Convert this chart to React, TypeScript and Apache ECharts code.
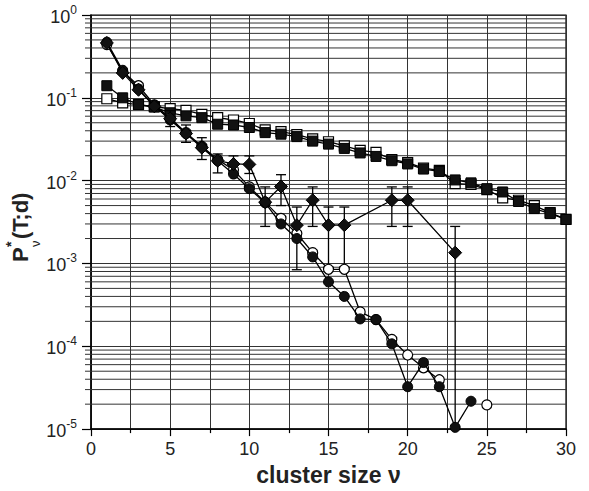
import React, { useEffect, useRef } from 'react';
import * as echarts from 'echarts';

// cluster sizes (x)
const squareSizes = [1, 2, 3, 4, 5, 6, 7, 8, 9, 10, 11, 12, 13, 14, 15, 16, 17, 18, 19, 20, 21, 22, 23, 24, 25, 26, 27, 28, 29, 30];
const filledSquares = [0.14, 0.1, 0.083, 0.0774, 0.066, 0.0606, 0.0576, 0.048, 0.047, 0.0438, 0.038, 0.0364, 0.034, 0.03, 0.0276, 0.0245, 0.0216, 0.0196, 0.0174, 0.0159, 0.0138, 0.0129, 0.0102, 0.0094, 0.008, 0.0073, 0.0056, 0.0046, 0.004, 0.0034];
const openSquares = [0.0975, 0.087, 0.083, 0.078, 0.074, 0.0706, 0.063, 0.0576, 0.054, 0.049, 0.041, 0.039, 0.036, 0.032, 0.0295, 0.0263, 0.0232, 0.0219, 0.018, 0.0165, 0.0142, 0.0133, 0.0092, 0.009, 0.0078, 0.0062, 0.0058, 0.005, 0.0041, 0.0034];

const openCircleSizes = [1, 2, 3, 4, 5, 6, 7, 8, 9, 10, 11, 12, 13, 14, 15, 16, 17, 18, 19, 20, 21, 22, 23, 24, 25];
const openCircles: (number | null)[] = [0.44, 0.21, 0.14, 0.082, 0.057, 0.038, 0.026, 0.018, 0.0135, 0.0084, 0.0055, 0.0035, 0.0023, 0.00135, 0.00085, 0.00085, 0.00026, 0.00021, 0.000121, 0.0000785, 0.000055, 0.0000394, null, null, 0.0000196];

const filledCircleSizes = [1, 2, 3, 4, 5, 6, 7, 8, 9, 10, 11, 12, 13, 14, 15, 16, 17, 18, 19, 20, 21, 22, 23, 24];
const filledCircles = [0.47, 0.215, 0.128, 0.08, 0.054, 0.037, 0.0255, 0.0174, 0.012, 0.008, 0.0054, 0.003, 0.002, 0.0012, 0.0006, 0.0004, 0.000214, 0.00021, 0.000107, 0.0000325, 0.0000636, 0.0000325, 0.0000105, 0.0000217];

const diamondSizes = [1, 2, 3, 4, 5, 6, 7, 8, 9, 10, 11, 12, 13, 14, 15, 16, 19, 20, 23];
const diamonds = [0.46, 0.2, 0.125, 0.079, 0.056, 0.037, 0.025, 0.0174, 0.0159, 0.0157, 0.0055, 0.0085, 0.0029, 0.0058, 0.0029, 0.0029, 0.0058, 0.0058, 0.00135];

const errSizes = [5, 6, 7, 8, 9, 10, 11, 12, 13, 14, 15, 16, 19, 20, 23];
const errLow = [0.045, 0.029, 0.018, 0.0124, 0.0122, 0.0122, 0.0028, 0.005, 0.00084, 0.0028, 0.0009, 0.0009, 0.0028, 0.0028, 0.00001];
const errHigh = [0.07, 0.047, 0.033, 0.021, 0.0199, 0.0199, 0.0084, 0.0118, 0.0048, 0.0084, 0.0048, 0.0048, 0.0084, 0.0084, 0.0028];

// log-axis minor grid positions
const decades = [1e-5, 1e-4, 1e-3, 1e-2, 1e-1];
const minorMultipliers = [2, 3, 4, 5, 6, 7, 8, 9];
const minorTickValues: number[] = [];
decades.forEach((d) => minorMultipliers.forEach((m) => minorTickValues.push(d * m)));

const FONT = 'Arial, "Liberation Sans", Helvetica, sans-serif';
const GRID_COLOR = '#333';
const TEXT_COLOR = '#222';

function pairs(xs: number[], ys: (number | null)[]) {
  return xs.map((x, i) => (ys[i] == null ? [x, '-'] : [x, ys[i]]));
}

export default function App() {
  const ref = useRef<HTMLDivElement>(null);
  useEffect(() => {
    const chart = echarts.init(ref.current!, null, { renderer: 'svg' });
    const lineStyle = { color: '#000', width: 1.3 };
    const option: any = {
      animation: false,
      backgroundColor: '#fff',
      grid: { left: 91, right: 23, top: 15, bottom: 59, show: true, borderColor: '#000', borderWidth: 1.2, backgroundColor: 'transparent' },
      xAxis: {
        type: 'value',
        min: 0,
        max: 30,
        interval: 5,
        axisLine: { show: true, lineStyle: { color: '#000', width: 1.5 } },
        axisTick: { show: true, length: 7, lineStyle: { color: '#000', width: 1.2 } },
        minorTick: { show: true, splitNumber: 2, length: 4, lineStyle: { color: '#000', width: 1.2 } },
        splitLine: { show: true, lineStyle: { color: GRID_COLOR, width: 1 } },
        minorSplitLine: { show: true, lineStyle: { color: GRID_COLOR, width: 1 } },
        axisLabel: { fontSize: 18, color: TEXT_COLOR, fontFamily: FONT, margin: 11 },
        name: 'cluster size ν',
        nameLocation: 'middle',
        nameGap: 29,
        nameTextStyle: { fontSize: 23, fontWeight: 'bold', color: TEXT_COLOR, fontFamily: FONT },
      },
      yAxis: {
        type: 'log',
        logBase: 10,
        min: 1e-5,
        max: 1,
        axisLine: { show: true, lineStyle: { color: '#000', width: 1.5 } },
        axisTick: { show: true, length: 9, lineStyle: { color: '#000', width: 1.2 } },
        splitLine: { show: true, lineStyle: { color: GRID_COLOR, width: 1 } },
        axisLabel: {
          margin: 14,
          formatter: (v: number) => `{b|10}{s|${Math.round(Math.log10(v))}}`,
          rich: {
            b: { fontSize: 18, color: TEXT_COLOR, fontFamily: FONT, lineHeight: 22, verticalAlign: 'bottom' },
            s: { fontSize: 12, color: TEXT_COLOR, fontFamily: FONT, lineHeight: 12, verticalAlign: 'top' },
          },
        },
      },
      graphic: [
        {
          type: 'group',
          x: 20,
          y: 262,
          rotation: Math.PI / 2,
          children: [
            { type: 'text', x: 0, y: 0, style: { text: 'P', fontSize: 22, fontWeight: 'bold', fontFamily: FONT, fill: TEXT_COLOR, align: 'left', verticalAlign: 'middle', textAlign: 'left', textVerticalAlign: 'middle' } },
            { type: 'text', x: 15, y: -9, style: { text: '*', fontSize: 14, fontWeight: 'bold', fontFamily: FONT, fill: TEXT_COLOR, align: 'left', verticalAlign: 'middle', textAlign: 'left', textVerticalAlign: 'middle' } },
            { type: 'text', x: 15, y: 15, style: { text: 'ν', fontSize: 13, fontFamily: FONT, fill: TEXT_COLOR, align: 'left', verticalAlign: 'middle', textAlign: 'left', textVerticalAlign: 'middle' } },
            { type: 'text', x: 23, y: 0, style: { text: '(T;d)', fontSize: 22, fontWeight: 'bold', fontFamily: FONT, fill: TEXT_COLOR, align: 'left', verticalAlign: 'middle', textAlign: 'left', textVerticalAlign: 'middle' } },
          ],
        },
      ],
      series: [
        {
          type: 'custom',
          name: 'minorGrid',
          silent: true,
          clip: false,
          z: 1,
          encode: { x: 0, y: 1 },
          data: minorTickValues.map((v) => [0, v]),
          renderItem: (params: any, api: any) => {
            const y = api.coord([0, api.value(1)])[1];
            const cs = params.coordSys;
            return {
              type: 'line',
              shape: { x1: cs.x - 6, y1: y, x2: cs.x + cs.width, y2: y },
              style: { stroke: GRID_COLOR, lineWidth: 1 },
            };
          },
        },
        {
          type: 'line',
          name: 'open squares',
          z: 3,
          data: pairs(squareSizes, openSquares),
          symbol: 'rect',
          symbolSize: 10,
          lineStyle,
          itemStyle: { color: '#fff', borderColor: '#000', borderWidth: 1.2 },
        },
        {
          type: 'line',
          name: 'filled squares',
          z: 4,
          data: pairs(squareSizes, filledSquares),
          symbol: 'rect',
          symbolSize: 10,
          lineStyle,
          itemStyle: { color: '#111', borderColor: '#000', borderWidth: 1 },
        },
        {
          type: 'custom',
          name: 'error bars',
          silent: true,
          clip: false,
          z: 5,
          encode: { x: 0, y: [1, 2] },
          data: errSizes.map((x, i) => [x, errLow[i], errHigh[i]]),
          renderItem: (params: any, api: any) => {
            const x = api.value(0);
            const pHi = api.coord([x, api.value(2)]);
            const pLo = api.coord([x, api.value(1)]);
            const w = 5;
            const st = { stroke: '#000', lineWidth: 1.3 };
            return {
              type: 'group',
              children: [
                { type: 'line', shape: { x1: pHi[0], y1: pHi[1], x2: pLo[0], y2: pLo[1] }, style: st },
                { type: 'line', shape: { x1: pHi[0] - w, y1: pHi[1], x2: pHi[0] + w, y2: pHi[1] }, style: st },
                { type: 'line', shape: { x1: pLo[0] - w, y1: pLo[1], x2: pLo[0] + w, y2: pLo[1] }, style: st },
              ],
            };
          },
        },
        {
          type: 'line',
          name: 'open circles',
          z: 6,
          data: pairs(openCircleSizes, openCircles),
          symbol: 'circle',
          symbolSize: 10,
          connectNulls: false,
          lineStyle,
          itemStyle: { color: '#fff', borderColor: '#000', borderWidth: 1.2 },
        },
        {
          type: 'line',
          name: 'filled circles',
          z: 7,
          data: pairs(filledCircleSizes, filledCircles),
          symbol: 'circle',
          symbolSize: 10,
          lineStyle,
          itemStyle: { color: '#111', borderColor: '#000', borderWidth: 1 },
        },
        {
          type: 'line',
          name: 'diamonds',
          z: 8,
          data: pairs(diamondSizes, diamonds),
          symbol: 'diamond',
          symbolSize: 13,
          lineStyle,
          itemStyle: { color: '#111', borderColor: '#000', borderWidth: 1 },
        },
      ],
    };
    chart.setOption(option);
    return () => chart.dispose();
  }, []);
  return <div ref={ref} style={{ position: 'absolute', left: 0, top: 0, width: 589, height: 491 }} />;
}
